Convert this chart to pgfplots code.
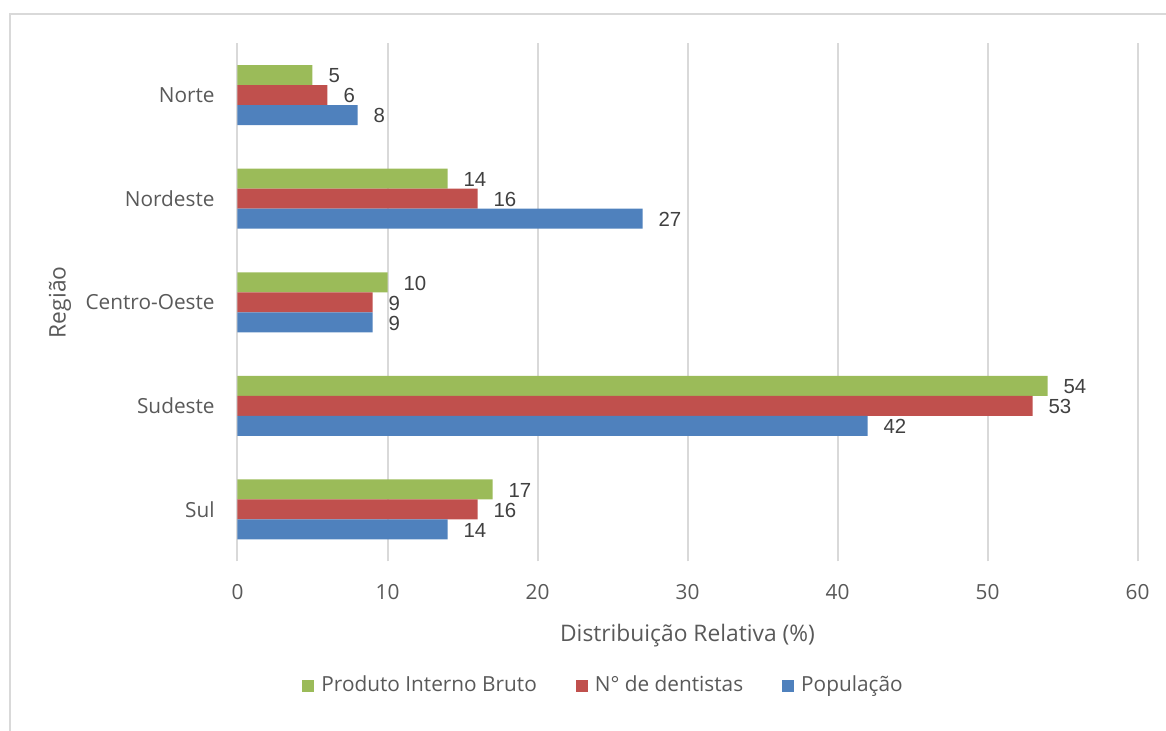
\documentclass[border=0pt]{standalone}
\usepackage{pgfplots}
\pgfplotsset{compat=1.18}
\usepackage{fontspec}
\setmainfont{Open Sans}
\newfontfamily\arialf{Liberation Sans}
\definecolor{cgreen}{HTML}{9BBB59}
\definecolor{cred}{HTML}{C0504D}
\definecolor{cblue}{HTML}{4F81BD}
\definecolor{gridc}{HTML}{D9D9D9}
\definecolor{txt}{HTML}{595959}
\definecolor{lbl}{HTML}{404040}
\begin{document}
\begin{tikzpicture}
\begin{axis}[
 at={(0pt,0pt)}, anchor=south west,
 scale only axis, width=450pt, height=259pt,
 xbar, bar width=10pt,
 xmin=0, xmax=60, ymin=-0.5, ymax=4.5,
 xtick={0,10,...,60},
 ytick={0,1,2,3,4},
 yticklabels={Sul,Sudeste,Centro-Oeste,Nordeste,Norte},
 xmajorgrids, grid style={gridc, line width=1pt},
 axis line style={draw=none},
 major tick length=0pt,
 /pgf/number format/assume math mode=true,
 ticklabel style={font=\fontsize{10.4}{12}\selectfont, text=txt},
 xticklabel style={anchor=base, yshift=-19.35pt},
 yticklabel style={anchor=east, inner sep=0pt, xshift=-11.25pt},
 xlabel={Distribuição Relativa (\%)},
 xlabel style={at={(rel axis cs:0.5,0)}, anchor=base, yshift=-40.2pt, font=\fontsize{11.4}{13}\selectfont, text=txt},
 ylabel={Região},
 ylabel style={at={(rel axis cs:-0.19722,0.5)}, anchor=center, font=\fontsize{11.4}{13}\selectfont, text=txt},
 legend columns=3,
 legend image code/.code={\fill[#1] (0pt,-3pt) rectangle (6pt,3pt); \path (9.5pt,0pt);},
 legend style={at={(rel axis cs:0.07167,-0.2398)}, anchor=west, draw=none, fill=none, inner sep=0pt,
   /tikz/every even column/.append style={column sep=19.5pt},
   font=\fontsize{10.4}{12}\selectfont, text=txt, nodes={inner sep=0pt}},
 nodes near coords,
 nodes near coords style={font=\arialf\fontsize{10.2}{12}\selectfont, text=lbl, anchor=west, inner sep=0pt, xshift=7.8pt, yshift=-0.4pt},
]
\addplot[fill=cgreen, draw=none, bar shift=10pt] coordinates {(17,0) (54,1) (10,2) (14,3) (5,4)};
\addlegendentry{Produto Interno Bruto}
\addplot[fill=cred, draw=none, bar shift=0pt] coordinates {(16,0) (53,1) (9,2) (16,3) (6,4)};
\addlegendentry{N° de dentistas}
\addplot[fill=cblue, draw=none, bar shift=-10pt] coordinates {(14,0) (42,1) (9,2) (27,3) (8,4)};
\addlegendentry{População}
\end{axis}
\draw[gridc, line width=1pt] (-113.5pt,-90pt) -- (-113.5pt,273.5pt) -- (470pt,273.5pt);
\pgfresetboundingbox
\useasboundingbox (-118.75pt,-84.85pt) rectangle (464.25pt,280.65pt);
\end{tikzpicture}
\end{document}
